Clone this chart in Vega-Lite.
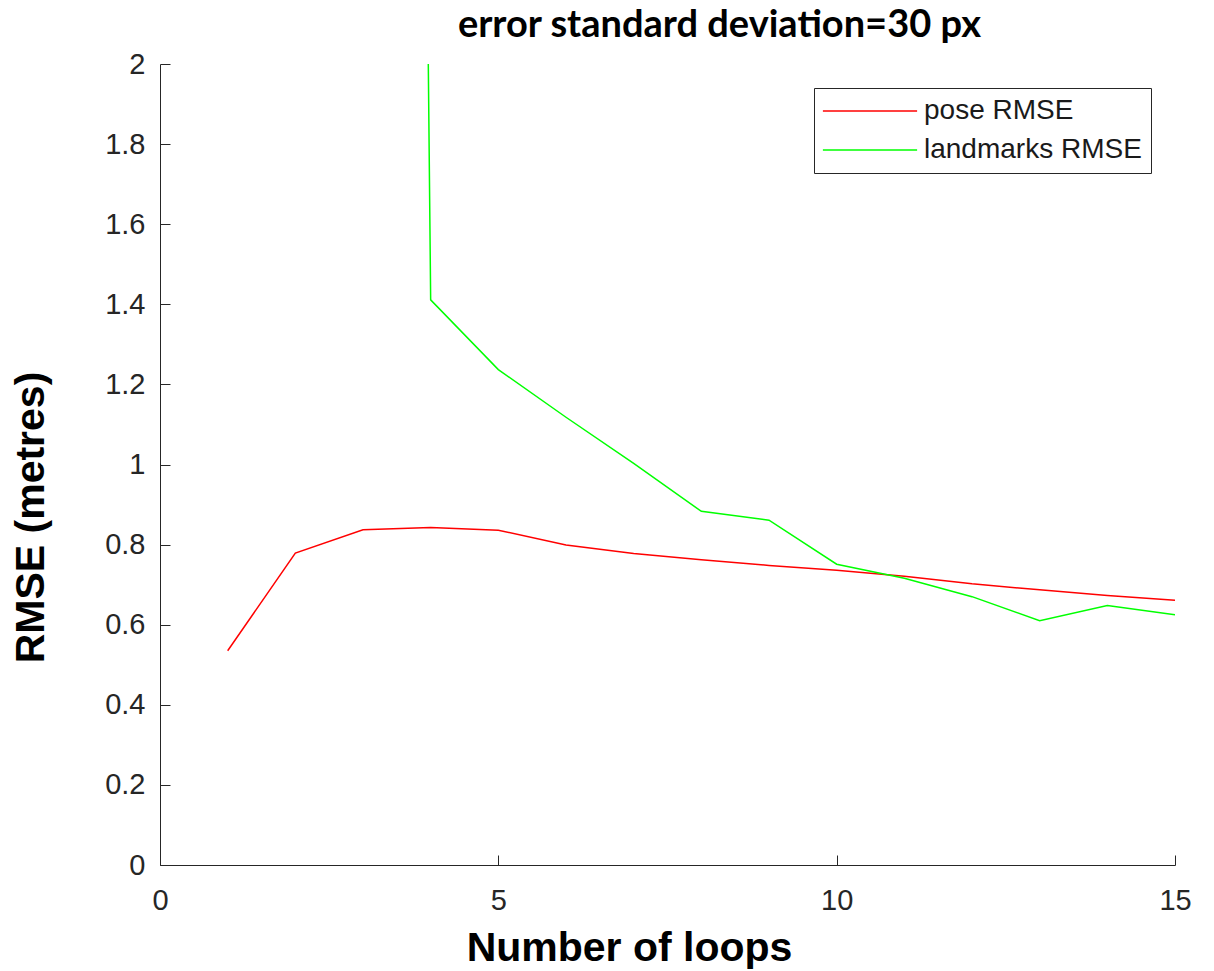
{
  "$schema": "https://vega.github.io/schema/vega-lite/v6.json",
  "autosize": {"type": "none"},
  "padding": {"left": 160, "top": 64, "right": 39, "bottom": 106},
  "width": 1015,
  "height": 801,
  "background": "white",
  "title": {
    "text": "error standard deviation=30 px",
    "font": "Lato",
    "fontWeight": "bold",
    "fontSize": 38,
    "color": "#000000",
    "anchor": "middle",
    "frame": "group",
    "baseline": "alphabetic",
    "offset": -25,
    "dx": 52
  },
  "data": {
    "values": [
      {"loops": 1, "rmse": 0.535, "series": "pose RMSE"},
      {"loops": 2, "rmse": 0.779, "series": "pose RMSE"},
      {"loops": 3, "rmse": 0.837, "series": "pose RMSE"},
      {"loops": 4, "rmse": 0.843, "series": "pose RMSE"},
      {"loops": 5, "rmse": 0.836, "series": "pose RMSE"},
      {"loops": 6, "rmse": 0.799, "series": "pose RMSE"},
      {"loops": 7, "rmse": 0.778, "series": "pose RMSE"},
      {"loops": 8, "rmse": 0.762, "series": "pose RMSE"},
      {"loops": 9, "rmse": 0.748, "series": "pose RMSE"},
      {"loops": 10, "rmse": 0.736, "series": "pose RMSE"},
      {"loops": 11, "rmse": 0.721, "series": "pose RMSE"},
      {"loops": 12, "rmse": 0.702, "series": "pose RMSE"},
      {"loops": 13, "rmse": 0.687, "series": "pose RMSE"},
      {"loops": 14, "rmse": 0.673, "series": "pose RMSE"},
      {"loops": 15, "rmse": 0.661, "series": "pose RMSE"},
      {"loops": 3.965, "rmse": 2.0, "series": "landmarks RMSE"},
      {"loops": 4, "rmse": 1.411, "series": "landmarks RMSE"},
      {"loops": 5, "rmse": 1.237, "series": "landmarks RMSE"},
      {"loops": 6, "rmse": 1.118, "series": "landmarks RMSE"},
      {"loops": 7, "rmse": 1.003, "series": "landmarks RMSE"},
      {"loops": 8, "rmse": 0.883, "series": "landmarks RMSE"},
      {"loops": 9, "rmse": 0.861, "series": "landmarks RMSE"},
      {"loops": 10, "rmse": 0.751, "series": "landmarks RMSE"},
      {"loops": 11, "rmse": 0.716, "series": "landmarks RMSE"},
      {"loops": 12, "rmse": 0.670, "series": "landmarks RMSE"},
      {"loops": 13, "rmse": 0.610, "series": "landmarks RMSE"},
      {"loops": 14, "rmse": 0.648, "series": "landmarks RMSE"},
      {"loops": 15, "rmse": 0.625, "series": "landmarks RMSE"}
    ]
  },
  "mark": {"type": "line", "clip": true, "strokeWidth": 1.5},
  "encoding": {
    "x": {
      "field": "loops",
      "type": "quantitative",
      "scale": {"domain": [0, 15], "nice": false, "zero": false},
      "axis": {
        "title": "Number of loops",
        "values": [0, 5, 10, 15],
        "format": "d",
        "labelFlush": false,
        "titleX": 469,
        "titleY": 95,
        "titleAlign": "center",
        "titleBaseline": "alphabetic",
        "labelPadding": 31,
        "labelBaseline": "top"
      }
    },
    "y": {
      "field": "rmse",
      "type": "quantitative",
      "scale": {"domain": [0, 2], "nice": false, "zero": true},
      "axis": {
        "title": "RMSE (metres)",
        "values": [0, 0.2, 0.4, 0.6, 0.8, 1, 1.2, 1.4, 1.6, 1.8, 2],
        "format": "~g",
        "labelFlush": false,
        "titleX": -117,
        "titleY": 453,
        "titleAngle": -90,
        "titleAlign": "center",
        "titleBaseline": "alphabetic",
        "labelPadding": 25,
        "labelBaseline": "middle"
      }
    },
    "color": {
      "field": "series",
      "type": "nominal",
      "scale": {"domain": ["pose RMSE", "landmarks RMSE"], "range": ["#ff0000", "#00ff00"]},
      "legend": {
        "title": null,
        "orient": "top-right",
        "offset": 24,
        "padding": 9,
        "symbolType": "M-5,0H5",
        "symbolSize": 355,
        "symbolStrokeWidth": 1.5,
        "symbolOffset": 33,
        "labelOffset": 40,
        "rowPadding": 11,
        "labelFont": "Liberation Sans",
        "labelFontSize": 28,
        "labelColor": "#1a1a1a",
        "labelLimit": 500,
        "strokeColor": "#262626",
        "fillColor": "#ffffff"
      }
    }
  },
  "config": {
    "view": {"stroke": null},
    "axis": {
      "grid": false,
      "domainColor": "#262626",
      "domainWidth": 1,
      "tickColor": "#262626",
      "tickWidth": 1,
      "tickSize": -10,
      "labelFont": "Liberation Sans",
      "labelFontSize": 29,
      "labelColor": "#262626",
      "titleFont": "Liberation Sans",
      "titleFontSize": 41,
      "titleFontWeight": "bold",
      "titleColor": "#000000"
    }
  }
}
